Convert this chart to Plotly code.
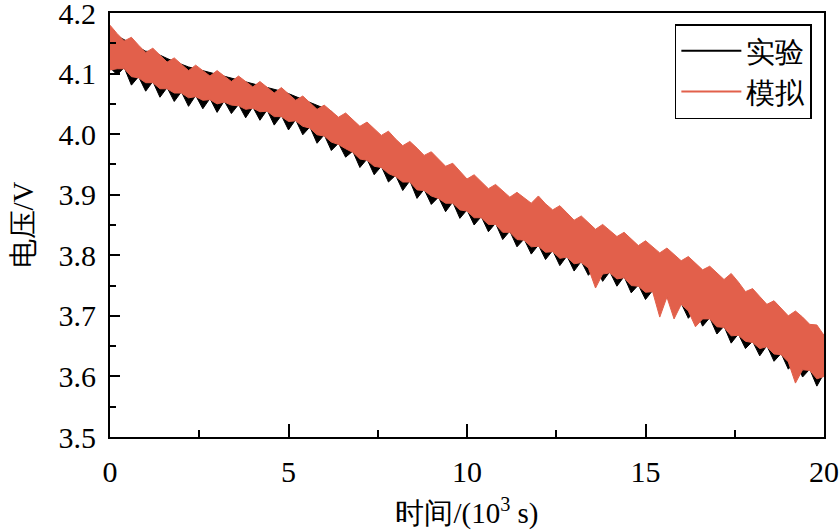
import plotly.graph_objects as go

# time axis (10^3 s)
time_k = [0.0, 0.2, 0.4, 0.6, 0.8, 1.0, 1.2, 1.4, 1.6, 1.8,
          2.0, 2.2, 2.4, 2.6, 2.8, 3.0, 3.2, 3.4, 3.6, 3.8,
          4.0, 4.2, 4.4, 4.6, 4.8, 5.0, 5.2, 5.4, 5.6, 5.8,
          6.0, 6.2, 6.4, 6.6, 6.8, 7.0, 7.2, 7.4, 7.6, 7.8,
          8.0, 8.2, 8.4, 8.6, 8.8, 9.0, 9.2, 9.4, 9.6, 9.8,
          10.0, 10.2, 10.4, 10.6, 10.8, 11.0, 11.2, 11.4, 11.6, 11.8,
          12.0, 12.2, 12.4, 12.6, 12.8, 13.0, 13.2, 13.4, 13.6, 13.8,
          14.0, 14.2, 14.4, 14.6, 14.8, 15.0, 15.2, 15.4, 15.6, 15.8,
          16.0, 16.2, 16.4, 16.6, 16.8, 17.0, 17.2, 17.4, 17.6, 17.8,
          18.0, 18.2, 18.4, 18.6, 18.8, 19.0, 19.2, 19.4, 19.6, 19.8, 20.0]

# 模拟 (simulation): upper / lower envelope of the fast oscillation (V)
sim_hi = [4.180, 4.166, 4.154, 4.160, 4.147, 4.135, 4.142, 4.130, 4.119, 4.126,
          4.115, 4.105, 4.114, 4.105, 4.096, 4.105, 4.096, 4.087, 4.096, 4.087,
          4.078, 4.087, 4.078, 4.068, 4.077, 4.067, 4.056, 4.063, 4.052, 4.041,
          4.048, 4.038, 4.028, 4.035, 4.024, 4.013, 4.020, 4.009, 3.998, 4.005,
          3.992, 3.981, 3.988, 3.977, 3.965, 3.971, 3.959, 3.947, 3.952, 3.939,
          3.926, 3.933, 3.922, 3.910, 3.917, 3.906, 3.896, 3.904, 3.895, 3.886,
          3.898, 3.885, 3.875, 3.882, 3.870, 3.858, 3.865, 3.854, 3.843, 3.851,
          3.841, 3.831, 3.838, 3.827, 3.816, 3.824, 3.814, 3.804, 3.812, 3.802,
          3.791, 3.798, 3.787, 3.776, 3.782, 3.771, 3.760, 3.770, 3.756, 3.740,
          3.745, 3.732, 3.719, 3.725, 3.712, 3.700, 3.708, 3.698, 3.686, 3.685, 3.668]
sim_lo = [4.106, 4.108, 4.108, 4.095, 4.093, 4.085, 4.085, 4.075, 4.075, 4.068,
          4.068, 4.060, 4.062, 4.056, 4.057, 4.050, 4.053, 4.048, 4.047, 4.041,
          4.043, 4.037, 4.038, 4.029, 4.029, 4.021, 4.022, 4.013, 4.010, 3.999,
          3.997, 3.987, 3.983, 3.976, 3.970, 3.959, 3.957, 3.947, 3.945, 3.935,
          3.930, 3.921, 3.921, 3.908, 3.907, 3.898, 3.894, 3.886, 3.886, 3.875,
          3.873, 3.862, 3.862, 3.851, 3.851, 3.838, 3.838, 3.826, 3.825, 3.814,
          3.815, 3.805, 3.806, 3.795, 3.797, 3.786, 3.788, 3.779, 3.746, 3.769,
          3.771, 3.761, 3.763, 3.750, 3.749, 3.739, 3.740, 3.698, 3.731, 3.695,
          3.719, 3.708, 3.682, 3.695, 3.695, 3.682, 3.681, 3.667, 3.668, 3.658,
          3.656, 3.646, 3.649, 3.637, 3.636, 3.624, 3.589, 3.611, 3.610, 3.596, 3.600]

# 实验 (experiment): upper / lower envelope (V)
exp_hi = [4.150, 4.162, 4.156, 4.150, 4.143, 4.137, 4.136, 4.130, 4.125, 4.120,
          4.115, 4.111, 4.108, 4.105, 4.102, 4.099, 4.096, 4.093, 4.090, 4.087,
          4.084, 4.081, 4.078, 4.074, 4.071, 4.067, 4.062, 4.057, 4.052, 4.047,
          4.042, 4.038, 4.022, 4.017, 4.012, 4.007, 4.002, 3.997, 3.992, 3.987,
          3.980, 3.975, 3.970, 3.965, 3.959, 3.953, 3.947, 3.941, 3.934, 3.927,
          3.920, 3.915, 3.910, 3.904, 3.899, 3.894, 3.890, 3.886, 3.883, 3.880,
          3.877, 3.873, 3.869, 3.864, 3.858, 3.852, 3.847, 3.842, 3.837, 3.833,
          3.829, 3.825, 3.820, 3.815, 3.810, 3.806, 3.802, 3.798, 3.794, 3.790,
          3.785, 3.780, 3.775, 3.770, 3.764, 3.759, 3.754, 3.750, 3.744, 3.734,
          3.727, 3.720, 3.713, 3.707, 3.700, 3.694, 3.690, 3.686, 3.680, 3.667, 3.657]
exp_lo = [4.110, 4.098, 4.110, 4.081, 4.095, 4.071, 4.087, 4.061, 4.077, 4.054,
          4.070, 4.046, 4.064, 4.042, 4.059, 4.036, 4.055, 4.034, 4.049, 4.027,
          4.045, 4.023, 4.040, 4.015, 4.031, 4.007, 4.024, 3.999, 4.012, 3.985,
          3.999, 3.973, 3.985, 3.962, 3.972, 3.945, 3.959, 3.933, 3.947, 3.921,
          3.932, 3.907, 3.923, 3.894, 3.909, 3.884, 3.896, 3.872, 3.888, 3.861,
          3.875, 3.850, 3.864, 3.839, 3.853, 3.826, 3.840, 3.814, 3.827, 3.802,
          3.817, 3.793, 3.808, 3.783, 3.799, 3.774, 3.790, 3.767, 3.781, 3.757,
          3.773, 3.749, 3.765, 3.738, 3.751, 3.727, 3.742, 3.717, 3.733, 3.707,
          3.721, 3.696, 3.710, 3.683, 3.697, 3.670, 3.683, 3.655, 3.670, 3.646,
          3.658, 3.634, 3.651, 3.625, 3.638, 3.612, 3.625, 3.599, 3.612, 3.584, 3.605]

series_names = ["实验", "模拟"]
BLACK = "#000000"
RED = "#e2604b"

fig = go.Figure()

# experiment band (drawn first, underneath)
fig.add_trace(go.Scatter(
    x=time_k + time_k[::-1], y=exp_hi + exp_lo[::-1],
    mode="lines", fill="toself", fillcolor=BLACK,
    line=dict(color=BLACK, width=1), showlegend=False, hoverinfo="skip"))
# simulation band on top
fig.add_trace(go.Scatter(
    x=time_k + time_k[::-1], y=sim_hi + sim_lo[::-1],
    mode="lines", fill="toself", fillcolor=RED,
    line=dict(color=RED, width=1), showlegend=False, hoverinfo="skip"))

# legend entries
fig.add_trace(go.Scatter(x=[None], y=[None], mode="lines",
                         line=dict(color=BLACK, width=2), name=series_names[0]))
fig.add_trace(go.Scatter(x=[None], y=[None], mode="lines",
                         line=dict(color=RED, width=2), name=series_names[1]))

serif = "Liberation Serif"

fig.update_layout(
    width=840, height=531,
    margin=dict(l=110, r=16, t=13, b=94),
    paper_bgcolor="white", plot_bgcolor="white",
    font=dict(family=serif, color="black"),
    showlegend=True,
    legend=dict(
        x=0.983, y=0.974, xanchor="right", yanchor="top",
        bgcolor="white", bordercolor="black", borderwidth=1.5,
        font=dict(family=serif, size=29, color="black"),
        tracegroupgap=0, itemwidth=60,
    ),
)

fig.update_xaxes(
    range=[0, 20], dtick=5, tick0=0, automargin=False,
    ticklabeloverflow="allow",
    ticks="inside", ticklen=13, tickwidth=1.5, tickcolor="black",
    minor=dict(dtick=2.5, ticks="inside", ticklen=7, tickwidth=1.5, tickcolor="black"),
    showline=True, linecolor="black", linewidth=2, mirror=True,
    showgrid=False, zeroline=False,
    tickfont=dict(family=serif, size=30, color="black"),
    ticklabelstandoff=7,
    title=dict(text="时间/(10<sup>3</sup> s)", font=dict(family=serif, size=29, color="black"),
               standoff=16),
)
fig.update_yaxes(
    range=[3.5, 4.2001], dtick=0.1, tick0=3.5, tickformat=".1f", automargin=False,
    ticklabeloverflow="allow",
    ticks="inside", ticklen=10, tickwidth=1.5, tickcolor="black",
    minor=dict(dtick=0.05, ticks="inside", ticklen=6, tickwidth=1.5, tickcolor="black"),
    showline=True, linecolor="black", linewidth=2, mirror=True,
    showgrid=False, zeroline=False,
    tickfont=dict(family=serif, size=30, color="black"),
    ticklabelstandoff=6,
    title=dict(text="电压/V", font=dict(family=serif, size=29, color="black"),
               standoff=16),
)

fig.write_html("out.html")
